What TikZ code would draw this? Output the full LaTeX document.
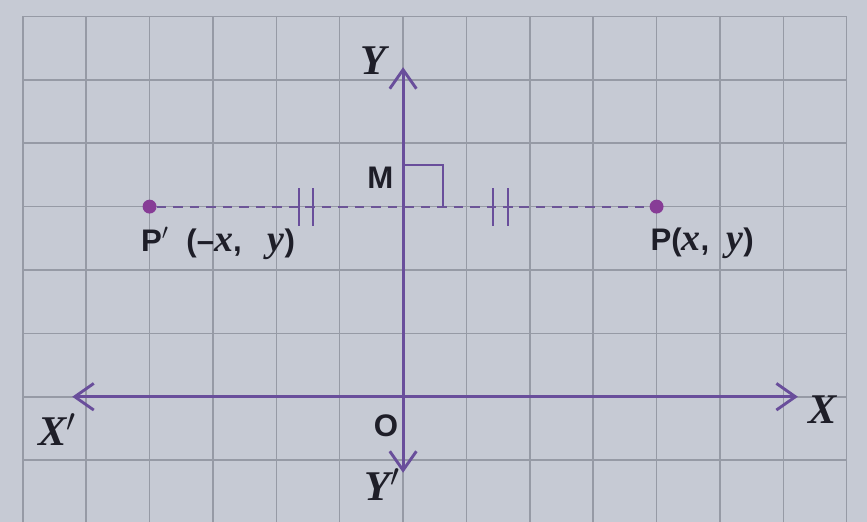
\documentclass[tikz,border=0pt]{standalone}
\usepackage{fontspec}
\setmainfont{Liberation Serif}
\setsansfont{Liberation Sans}
\usetikzlibrary{arrows.meta}

\definecolor{paper}{RGB}{198,202,212}
\definecolor{gridgray}{RGB}{150,154,165}
\definecolor{axispurple}{RGB}{105,78,155}
\definecolor{dotpurple}{RGB}{135,60,150}
\definecolor{ink}{RGB}{30,30,40}

\newcommand{\vlet}[1]{{\rmfamily\bfseries\itshape #1}}
\newcommand{\cvar}[1]{{\rmfamily\bfseries\itshape\fontsize{17}{17}\selectfont #1}}

\begin{document}
\begin{tikzpicture}[
    gridline/.style={draw=gridgray, line width=0.7pt},
    axisline/.style={
        {Straight Barb[length=3mm,width=4.2mm]}-{Straight Barb[length=3mm,width=4.2mm]},
        draw=axispurple,
        line width=1.3pt
    },
    refl/.style={draw=axispurple!85!gray, line width=0.9pt, dash pattern=on 0.15cm off 0.11cm},
    tickmark/.style={draw=axispurple, line width=0.9pt},
    dot/.style={circle, fill=dotpurple, inner sep=0pt, minimum size=2.2mm},
    axlab/.style={text=ink, font=\fontsize{19}{22}\selectfont},
    ptlab/.style={text=ink, font=\sffamily\bfseries\fontsize{14}{17}\selectfont}
]
    % paper and grid
    \useasboundingbox[fill=paper] (-6.36,-1.97) rectangle (7.32,6.26);
    \clip (-6.36,-1.97) rectangle (7.32,6.26);
    \draw[gridline] (-6,-2) grid (7,6);

    % axes
    \coordinate (O) at (0,0);
    \coordinate (xl) at (-5.22,0);
    \coordinate (xr) at (6.23,0);
    \coordinate (yt) at (0,5.2);
    \coordinate (yb) at (0,-1.2);
    \draw[axisline] (xl) -- (xr);
    \draw[axisline] (yb) -- (yt);

    % points and the mirror line
    \coordinate (M) at (0,3);
    \node[dot] (P) at (4,3) {};
    \node[dot] (Pm) at (-4,3) {};
    \draw[refl] (Pm) -- (P);

    % equal-length marks
    \foreach \t in {-1.65,-1.42,1.42,1.65}
        \draw[tickmark] (\t,2.7) -- (\t,3.3);

    % right angle at M
    \draw[tickmark] (M) ++(0,0.65) -- ++(0.63,0) -- ++(0,-0.65);

    % labels
    \node[axlab] (Xlab) at (6.62,-0.2) {\vlet{X}};
    \node[axlab] (Xplab) at (-5.45,-0.52) {\vlet{X}$'$};
    \node[axlab] (Ylab) at (-0.47,5.3) {\vlet{Y}};
    \node[axlab] (Yplab) at (-0.33,-1.38) {\vlet{Y}$'$};
    \node[ptlab] (Mlab) at (-0.36,3.45) {M};
    \node[ptlab] (Olab) at (-0.27,-0.46) {O};
    \node[ptlab] (Plab) at (4.72,2.42) {P(\cvar{x},\ \ \cvar{y})};
    \node[ptlab] (Pmlab) at (-2.92,2.42) {P$'$\ \ (\textendash\cvar{x},\ \ \ \cvar{y})};
\end{tikzpicture}
\end{document}
